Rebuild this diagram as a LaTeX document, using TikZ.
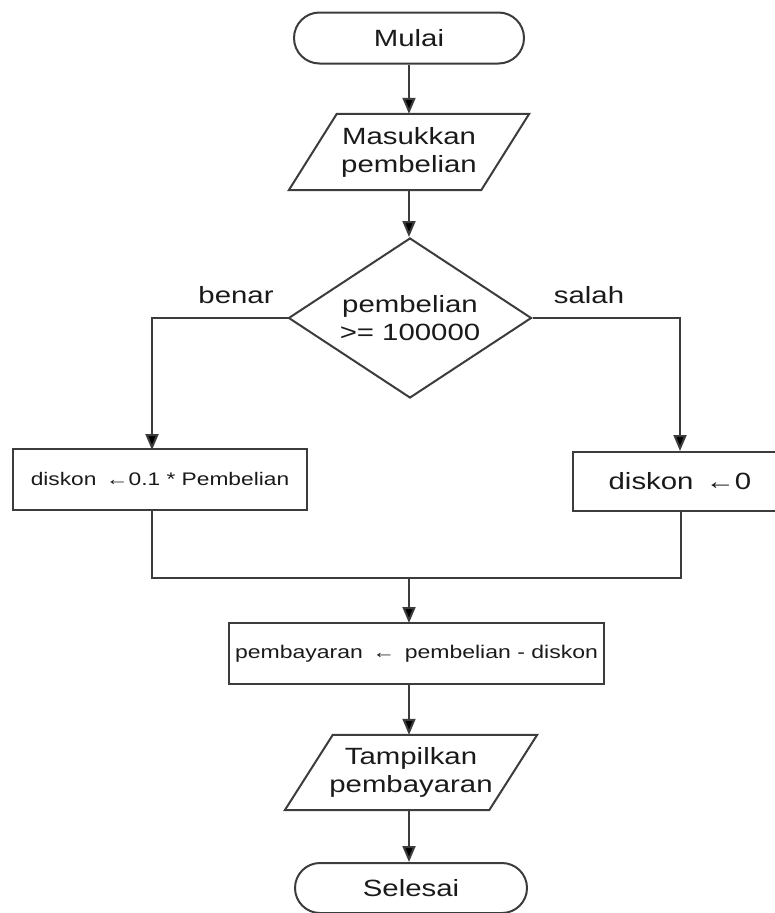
\documentclass[tikz,border=0pt]{standalone}
\usepackage{fontspec}
\setmainfont{Liberation Sans}[FakeStretch=1.25]
\usetikzlibrary{shapes.geometric,shapes.misc,arrows.meta}
\definecolor{edgegray}{HTML}{3C3C3C}
\definecolor{inkc}{HTML}{1A1A1A}

\begin{document}
\begin{tikzpicture}[x=1pt,y=-1pt,
  flow/.style={draw=edgegray,line width=2pt},
  arr/.style={flow,-{Triangle[length=16pt,width=13pt,fill=black]}},
  bigtxt/.style={font=\fontsize{23.5}{28}\selectfont,text=inkc,align=center},
  term/.style={bigtxt,rounded rectangle,flow,minimum width=230pt,minimum height=51pt,inner sep=0pt},
  iobox/.style={bigtxt,draw=none,minimum height=76pt,inner sep=0pt},
  decision/.style={bigtxt,diamond,aspect=1.52,flow,minimum width=243pt,minimum height=160pt,inner sep=0pt},
  procbox/.style={flow,text=inkc,inner sep=0pt,align=center},
  lbl/.style={bigtxt,anchor=base,inner sep=0pt}
]
\useasboundingbox (0,0) rectangle (775,913);
\clip (0,0) rectangle (775,913);

% terminals, input/output and decision
\node[term] (start) at (409,38) {Mulai};
\node[iobox,minimum width=192pt] (inp) at (409,152) {Masukkan\\pembelian};
\draw[flow] ([xshift=24pt]inp.north west) -- ([xshift=24pt]inp.north east)
  -- ([xshift=-24pt]inp.south east) -- ([xshift=-24pt]inp.south west) -- cycle;
\node[decision] (dec) at (410,318) {pembelian\\>= 100000};

% assignment boxes
\node[procbox,minimum width=294pt,minimum height=61pt,
  font=\fontsize{18.2}{21}\selectfont] (yes) at (160,479) {diskon \,←0.1 * Pembelian};
\node[procbox,minimum width=214pt,minimum height=59pt,
  font=\fontsize{23.5}{28}\selectfont] (no) at (680,481.5) {diskon \,←0};
\node[procbox,minimum width=375pt,minimum height=61pt,
  font=\fontsize{18.4}{22}\selectfont] (pay) at (416.5,653.5) {pembayaran \,←\, pembelian - diskon};

\node[iobox,minimum width=204pt,minimum height=75pt] (out) at (411,772.5) {Tampilkan\\pembayaran};
\draw[flow] ([xshift=24pt]out.north west) -- ([xshift=24pt]out.north east)
  -- ([xshift=-24pt]out.south east) -- ([xshift=-24pt]out.south west) -- cycle;
\node[term,minimum width=232pt,minimum height=50pt] (stop) at (411,888) {Selesai};

% branch labels
\node[lbl] (lyes) at (236,303) {benar};
\node[lbl] (lno) at (589,303) {salah};

% junction points
\coordinate (yesin) at (152,450);
\coordinate (yesout) at (152,509);
\coordinate (noout) at (681,511);
\coordinate (merge) at (409,578);
\coordinate (payin) at (409,623);

% connectors
\draw[arr] (start.south) -- (start.south |- inp.north);
\draw[arr] (inp.south) -- (inp.south |- dec.north);
\draw[arr] (dec.west) -| (yesin);
\draw[arr] (dec.east) -| (no.north);
\draw[flow] (yesout) |- (merge) -| (noout);
\draw[arr] (merge) -- (payin);
\draw[arr] (payin |- pay.south) -- (payin |- out.north);
\draw[arr] (payin |- out.south) -- (payin |- stop.north);
\end{tikzpicture}
\end{document}
